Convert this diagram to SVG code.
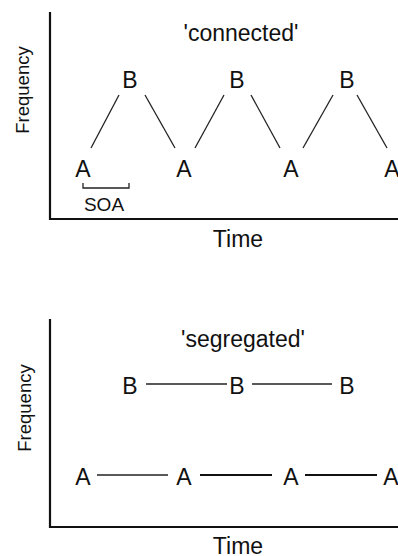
<svg xmlns="http://www.w3.org/2000/svg" width="398" height="556" viewBox="0 0 398 556">
<style>
text{font-family:"Liberation Sans",Arial,sans-serif;fill:#111;text-anchor:middle}
.lbl{font-size:23px}
.cap{font-size:23px}
.ax{font-size:23px}
.fq{font-size:18.5px}
.soa{font-size:19px}
.axis{stroke:#111;stroke-width:2.2;fill:none}
.ln{stroke:#222;stroke-width:1.3;fill:none}
.lnb{stroke:#111;stroke-width:2;fill:none}
</style>
<rect width="398" height="556" fill="#fff"/>
<g id="top-axes">
<path class="axis" d="M50,12 V219 H398"/>
<text class="cap" x="241" y="41">'connected'</text>
<text class="ax" x="238" y="247">Time</text>
<text class="fq" transform="translate(29,90) rotate(-90)">Frequency</text>
</g>
<g id="top-A1"><text class="lbl" x="83" y="177">A</text></g>
<g id="top-B1"><text class="lbl" x="130" y="88">B</text></g>
<g id="top-A2"><text class="lbl" x="184" y="177">A</text></g>
<g id="top-B2"><text class="lbl" x="237" y="88">B</text></g>
<g id="top-A3"><text class="lbl" x="291" y="177">A</text></g>
<g id="top-B3"><text class="lbl" x="347" y="88">B</text></g>
<g id="top-A4"><text class="lbl" x="392" y="177">A</text></g>
<g id="soa">
<path class="ln" d="M83,183 V188 H129 V183"/>
<text class="soa" x="104" y="211">SOA</text>
</g>
<g id="top-connectors">
<path class="ln" d="M91,148 L119,95"/>
<path class="ln" d="M145,95 L175,148"/>
<path class="ln" d="M195,148 L224,95"/>
<path class="ln" d="M251,95 L280,148"/>
<path class="ln" d="M303,148 L333,95"/>
<path class="ln" d="M357,95 L387,148"/>
</g>
<g id="bottom-axes">
<path class="axis" d="M50,319 V527 H398"/>
<text class="cap" x="243" y="347">'segregated'</text>
<text class="ax" x="238" y="554">Time</text>
<text class="fq" transform="translate(31,408) rotate(-90)">Frequency</text>
</g>
<g id="bot-B1"><text class="lbl" x="130" y="394">B</text></g>
<g id="bot-B2"><text class="lbl" x="237" y="394">B</text></g>
<g id="bot-B3"><text class="lbl" x="347" y="394">B</text></g>
<g id="bot-A1"><text class="lbl" x="83" y="485">A</text></g>
<g id="bot-A2"><text class="lbl" x="184" y="485">A</text></g>
<g id="bot-A3"><text class="lbl" x="291" y="485">A</text></g>
<g id="bot-A4"><text class="lbl" x="391" y="485">A</text></g>
<g id="bottom-connectors">
<path class="ln" d="M146,384 H227"/>
<path class="ln" d="M252,384 H332"/>
<path class="ln" d="M97,475 H168"/>
<path class="lnb" d="M200,475 H272"/>
<path class="lnb" d="M305,475 H377"/>
</g>
</svg>
